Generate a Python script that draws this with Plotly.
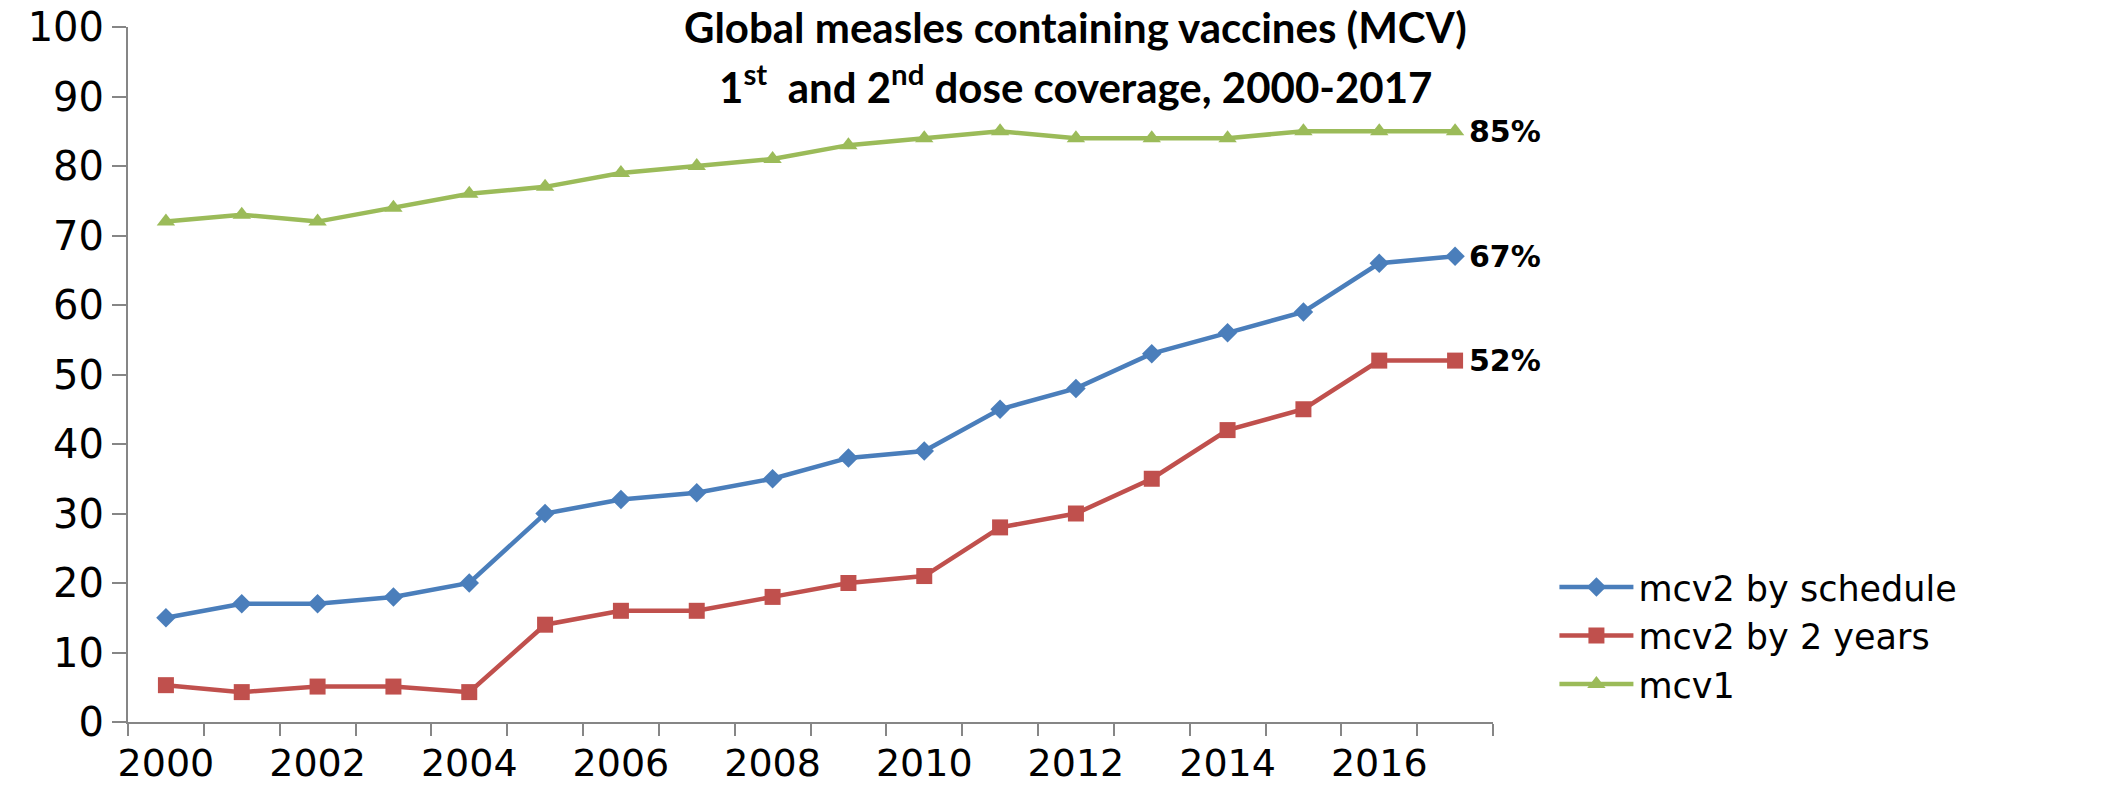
import plotly.graph_objects as go

# Coverage (%) by year
years = list(range(2000, 2018))
mcv2_schedule = [15, 17, 17, 18, 20, 30, 32, 33, 35, 38, 39, 45, 48, 53, 56, 59, 66, 67]
mcv2_2years = [5.3, 4.3, 5.1, 5.1, 4.3, 14, 16, 16, 18, 20, 21, 28, 30, 35, 42, 45, 52, 52]
mcv1 = [72, 73, 72, 74, 76, 77, 79, 80, 81, 83, 84, 85, 84, 84, 84, 85, 85, 85]

series_names = ["mcv2 by schedule", "mcv2 by 2 years", "mcv1"]
year_labels = [str(y) for y in range(2000, 2017, 2)]
y_ticks = list(range(0, 101, 10))

BLUE = "#4A7EBB"
RED = "#C0504D"
GREEN = "#9BBB59"
AXIS = "#868686"
TITLE_FONT = dict(family="Lato", size=42, color="#000000", weight="bold")

fig = go.Figure()
styles = [
    (mcv2_schedule, BLUE, "diamond", 15),
    (mcv2_2years, RED, "square", 16),
    (mcv1, GREEN, "triangle-up", 16),
]
for name, (vals, color, symbol, msize) in zip(series_names, styles):
    fig.add_trace(go.Scatter(
        x=years, y=vals, name=name, mode="lines+markers",
        line=dict(color=color, width=4.5),
        marker=dict(symbol=symbol, size=msize, color=color),
    ))

# End-of-series value labels
for vals in (mcv1, mcv2_schedule, mcv2_2years):
    fig.add_annotation(
        x=years[-1], y=vals[-1], xref="x", yref="y",
        text=f"<b>{vals[-1]:g}%</b>", showarrow=False,
        xanchor="left", yanchor="middle", xshift=12,
        font=dict(family="DejaVu Sans", size=30, color="#000000"),
    )

# Two-line title, stacked from the top edge of the figure
fig.add_annotation(
    x=0.694, y=1.0, xref="paper", yref="paper", showarrow=False,
    xanchor="center", yanchor="top", yshift=27,
    text="<b>Global measles containing vaccines (MCV)</b>",
    font=TITLE_FONT,
)
fig.add_annotation(
    x=0.694, y=1.0, xref="paper", yref="paper", showarrow=False,
    xanchor="center", yanchor="top", yshift=-27,
    text="<b>1<sup>st</sup>  and 2<sup>nd</sup> dose coverage, 2000-2017</b>",
    font=TITLE_FONT,
)

fig.update_xaxes(
    range=[1999.5, 2017.5], automargin=False,
    tickmode="array", tickvals=list(range(2000, 2017, 2)), ticktext=year_labels,
    ticks="", showgrid=False, zeroline=False,
    showline=True, linecolor=AXIS, linewidth=2,
    tickfont=dict(family="DejaVu Sans", size=38, color="#000000"),
    ticklabelstandoff=6,
    minor=dict(tickmode="array", tickvals=[1999.5 + i for i in range(19)],
               ticks="outside", ticklen=12, tickwidth=2, tickcolor=AXIS,
               showgrid=False),
)
fig.update_yaxes(
    range=[0, 100], automargin=False, tickmode="array", tickvals=y_ticks,
    ticks="outside", ticklen=14, tickwidth=2, tickcolor=AXIS,
    showgrid=False, zeroline=False,
    showline=True, linecolor=AXIS, linewidth=2,
    tickfont=dict(family="DejaVu Sans", size=40, color="#000000"),
)

fig.update_layout(
    width=2116, height=789,
    margin=dict(l=128, r=623, t=27, b=67, autoexpand=False),
    paper_bgcolor="#FFFFFF", plot_bgcolor="#FFFFFF",
    showlegend=True,
    legend=dict(
        x=1.045, y=0.124, xanchor="left", yanchor="middle",
        font=dict(family="DejaVu Sans", size=35, color="#000000"),
        itemwidth=74, tracegroupgap=0, bgcolor="rgba(0,0,0,0)",
    ),
)

fig.write_html("out.html")
